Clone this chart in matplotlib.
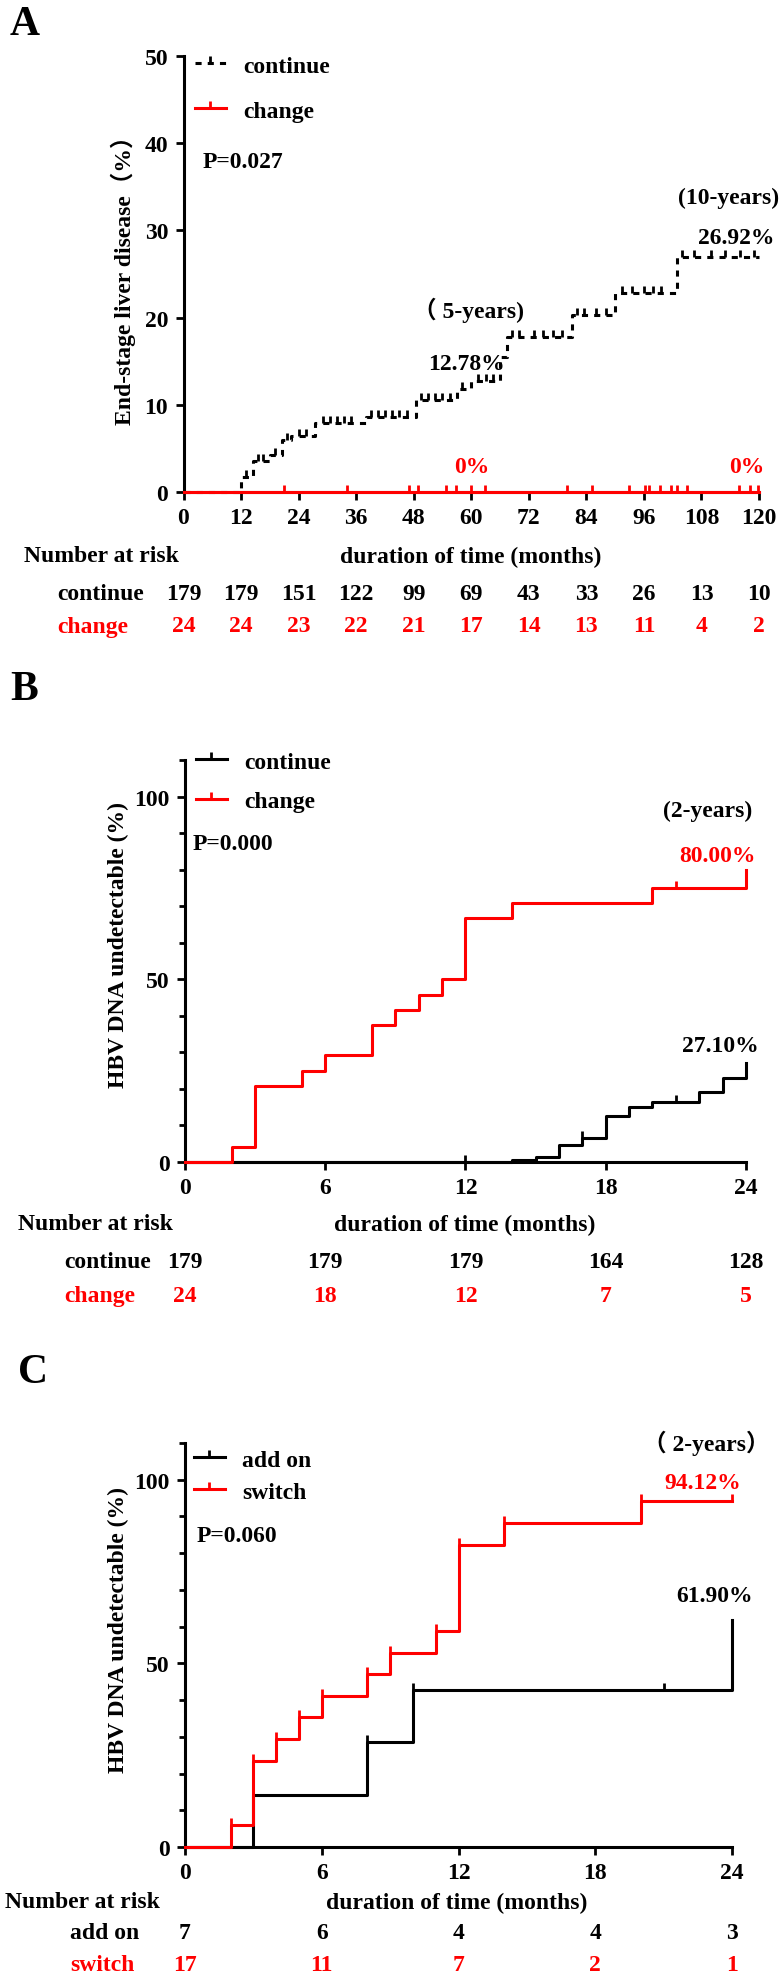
import numpy as np
import matplotlib
matplotlib.use("Agg")
import matplotlib.pyplot as plt
from matplotlib.lines import Line2D
from matplotlib.transforms import blended_transform_factory

plt.rcParams['font.family'] = ['Liberation Serif', 'Noto Sans CJK SC']
plt.rcParams['font.weight'] = 'bold'

W, H = 784, 1981
RED = '#ff0000'
FS = 17

# ---------------- panel A: end-stage liver disease ----------------
a_cont_t = [0, 12, 14.5, 18, 20.5, 22.5, 27.5, 38, 48.5, 57, 60, 66, 67.5, 81, 90, 103, 120]
a_cont_y = [0, 1.7, 3.6, 4.3, 6.0, 6.4, 7.9, 8.6, 10.5, 11.8, 12.78, 15.5, 17.8, 20.3, 22.8, 26.92, 26.92]
a_cont_cens = [13, 15.5, 16.5, 19, 21.5, 24, 25.5, 29, 30.5, 32, 33.5, 35, 39, 40.5, 42, 43.5,
               45, 46.5, 49.5, 51, 52.5, 54, 55.5, 58, 61.5, 63, 64.5, 68.5, 70, 73, 75, 77,
               79, 82, 83.5, 86, 88, 91.5, 93.5, 96, 98, 99.5, 104, 106.5, 110, 113, 116, 119]
a_chg_t = [0, 120]
a_chg_y = [0, 0]
a_chg_cens = [21.0, 34.0, 47.0, 48.8, 54.8, 56.9, 60.0, 62.8, 79.9, 85.1, 92.9, 96.2, 97.1,
              99.4, 101.7, 103.0, 104.9, 115.8, 118.1, 119.7]
a_risk_t = [0, 12, 24, 36, 48, 60, 72, 84, 96, 108, 120]
a_risk_cont = [179, 179, 151, 122, 99, 69, 43, 33, 26, 13, 10]
a_risk_chg = [24, 24, 23, 22, 21, 17, 14, 13, 11, 4, 2]

# ---------------- panel B: HBV DNA undetectable, continue vs change ----------------
b_cont_t = [0, 14, 15, 16, 17, 18, 19, 20, 22, 23, 24]
b_cont_y = [0, 0.6, 1.5, 4.6, 6.7, 12.7, 15.0, 16.3, 19.2, 23.0, 27.1]
b_cont_cens = [12, 17, 21]
b_chg_t = [0, 2, 3, 5, 6, 8, 9, 10, 11, 12, 14, 20, 24]
b_chg_y = [0, 4.17, 20.83, 25.0, 29.17, 37.5, 41.67, 45.83, 50.0, 66.67, 70.83, 75.0, 80.0]
b_chg_cens = [21]
b_risk_t = [0, 6, 12, 18, 24]
b_risk_cont = [179, 179, 179, 164, 128]
b_risk_chg = [24, 18, 12, 7, 5]

# ---------------- panel C: add on vs switch ----------------
c_add_t = [0, 3, 8, 10, 24]
c_add_y = [0, 14.29, 28.57, 42.86, 61.9]
c_add_cens = [8, 10, 21]
c_sw_t = [0, 2, 3, 4, 5, 6, 8, 9, 11, 12, 14, 20, 24]
c_sw_y = [0, 5.88, 23.53, 29.41, 35.29, 41.18, 47.06, 52.94, 58.82, 82.35, 88.24, 94.12, 94.12]
c_sw_cens = [2, 3, 4, 5, 6, 8, 9, 11, 12, 14, 20, 24]
c_risk_t = [0, 6, 12, 18, 24]
c_risk_add = [7, 6, 4, 4, 3]
c_risk_sw = [17, 11, 7, 2, 1]


def fy(y):
    return 1 - y / H


def make_ax(fig, left, right, top, bottom):
    ax = fig.add_axes([left / W, 1 - bottom / H, (right - left) / W, (bottom - top) / H])
    for s in ['top', 'right']:
        ax.spines[s].set_visible(False)
    for s in ['left', 'bottom']:
        ax.spines[s].set_linewidth(2.2)
    ax.tick_params(which='major', direction='out', length=6, width=2.0, labelsize=FS, pad=5)
    ax.tick_params(which='minor', direction='out', length=4.5, width=2.0)
    return ax


def bold_ticks(ax):
    for lab in ax.get_xticklabels() + ax.get_yticklabels():
        lab.set_fontweight('bold')


def step_at(t, y, x):
    i = np.searchsorted(t, x, side='right') - 1
    return np.asarray(y)[i]


def km(ax, t, y, cens, color, ls='-', z=3):
    ax.step(t, y, where='post', color=color, lw=2.2, ls=ls, clip_on=False, zorder=z)
    if cens:
        cy = step_at(np.array(t), y, np.array(cens))
        ax.plot(cens, cy, ls='none', marker=2, ms=5, mew=2.0, color=color,
                clip_on=False, zorder=z)


def risk_table(fig, ax, times, rows, ys, names, name_x, label_y, xlabel_x):
    tr = blended_transform_factory(ax.transData, fig.transFigure)
    fig.text(name_x[0] / W, fy(label_y), 'Number at risk', fontsize=FS, ha='left', va='center')
    fig.text(xlabel_x / W, fy(label_y), 'duration of time (months)', fontsize=FS,
             ha='center', va='center')
    for (vals, yy, nm, col) in zip(rows, ys, names, ['black', RED]):
        fig.text(name_x[1] / W, fy(yy), nm, fontsize=FS, ha='left', va='center', color=col)
        for tt, v in zip(times, vals):
            ax.text(tt, fy(yy), str(v), transform=tr, fontsize=FS, ha='center',
                    va='center', color=col, clip_on=False)


def handles(ls_first):
    return [Line2D([], [], color='black', lw=2.2, ls=ls_first, marker=2, ms=5, mew=2),
            Line2D([], [], color=RED, lw=2.2, marker=2, ms=5, mew=2)]


fig = plt.figure(figsize=(W / 100, H / 100), dpi=100)

# ===== A =====
axA = make_ax(fig, 183.5, 759, 57, 493)
km(axA, a_cont_t, a_cont_y, a_cont_cens, 'black', ls=(0, (2, 2)), z=3)
km(axA, a_chg_t, a_chg_y, a_chg_cens, RED, z=4)
axA.set_xlim(0, 120)
axA.set_ylim(0, 50)
axA.set_xticks(a_risk_t)
axA.set_yticks([0, 10, 20, 30, 40, 50])
bold_ticks(axA)
fig.text(10 / W, fy(25), 'A', fontsize=30, ha='left', va='center')
fig.text(123 / W, fy(275), 'End-stage liver disease（%）', fontsize=FS, rotation=90,
         ha='center', va='center')
fig.legend(handles((0, (2, 2))), ['continue', 'change'], loc='upper left',
           bbox_to_anchor=(195 / W, fy(56)), frameon=False, fontsize=FS, handlelength=1.3,
           handletextpad=0.75, labelspacing=1.0, borderpad=0, borderaxespad=0)
fig.text(203 / W, fy(163), 'P=0.027', fontsize=FS, ha='left', va='center')
fig.text(468 / W, fy(310), '（ 5-years)', fontsize=FS, ha='center', va='center')
fig.text(466 / W, fy(365), '12.78%', fontsize=FS, ha='center', va='center')
fig.text(729 / W, fy(198), '(10-years)', fontsize=FS, ha='center', va='center')
fig.text(736 / W, fy(238), '26.92%', fontsize=FS, ha='center', va='center')
fig.text(472 / W, fy(468), '0%', fontsize=FS, ha='center', va='center', color=RED)
fig.text(747 / W, fy(468), '0%', fontsize=FS, ha='center', va='center', color=RED)
risk_table(fig, axA, a_risk_t, [a_risk_cont, a_risk_chg], [595, 627],
           ['continue', 'change'], (24, 57), 557, 471)

# ===== B =====
axB = make_ax(fig, 185, 746, 761, 1163)
km(axB, b_cont_t, b_cont_y, b_cont_cens, 'black', z=3)
km(axB, b_chg_t, b_chg_y, b_chg_cens, RED, z=4)
axB.set_xlim(0, 24)
axB.set_ylim(0, 110)
axB.set_xticks(b_risk_t)
axB.set_yticks([0, 50, 100])
axB.set_yticks(np.arange(0, 111, 10), minor=True)
bold_ticks(axB)
fig.text(10 / W, fy(690), 'B', fontsize=30, ha='left', va='center')
fig.text(118 / W, fy(945), 'HBV DNA undetectable (%)', fontsize=FS, rotation=90,
         ha='center', va='center')
fig.legend(handles('-'), ['continue', 'change'], loc='upper left',
           bbox_to_anchor=(196 / W, fy(752)), frameon=False, fontsize=FS, handlelength=1.3,
           handletextpad=0.75, labelspacing=0.75, borderpad=0, borderaxespad=0)
fig.text(193 / W, fy(845), 'P=0.000', fontsize=FS, ha='left', va='center')
fig.text(708 / W, fy(811), '(2-years)', fontsize=FS, ha='center', va='center')
fig.text(717 / W, fy(857), '80.00%', fontsize=FS, ha='center', va='center', color=RED)
fig.text(720 / W, fy(1047), '27.10%', fontsize=FS, ha='center', va='center')
risk_table(fig, axB, b_risk_t, [b_risk_cont, b_risk_chg], [1263, 1297],
           ['continue', 'change'], (18, 64), 1225, 465)

# ===== C =====
axC = make_ax(fig, 185, 732, 1444, 1848)
km(axC, c_add_t, c_add_y, c_add_cens, 'black', z=3)
km(axC, c_sw_t, c_sw_y, c_sw_cens, RED, z=4)
axC.set_xlim(0, 24)
axC.set_ylim(0, 110)
axC.set_xticks(c_risk_t)
axC.set_yticks([0, 50, 100])
axC.set_yticks(np.arange(0, 111, 10), minor=True)
bold_ticks(axC)
fig.text(18 / W, fy(1373), 'C', fontsize=30, ha='left', va='center')
fig.text(118 / W, fy(1630), 'HBV DNA undetectable (%)', fontsize=FS, rotation=90,
         ha='center', va='center')
fig.legend(handles('-'), ['add on', 'switch'], loc='upper left',
           bbox_to_anchor=(194 / W, fy(1450)), frameon=False, fontsize=FS, handlelength=1.3,
           handletextpad=0.75, labelspacing=0.45, borderpad=0, borderaxespad=0)
fig.text(197 / W, fy(1537), 'P=0.060', fontsize=FS, ha='left', va='center')
fig.text(706 / W, fy(1443), '（ 2-years）', fontsize=FS, ha='center', va='center')
fig.text(703 / W, fy(1484), '94.12%', fontsize=FS, ha='center', va='center', color=RED)
fig.text(715 / W, fy(1597), '61.90%', fontsize=FS, ha='center', va='center')
risk_table(fig, axC, c_risk_t, [c_risk_add, c_risk_sw], [1934, 1966],
           ['add on', 'switch'], (5, 70), 1903, 457)

fig.savefig('out.png', dpi=100)
